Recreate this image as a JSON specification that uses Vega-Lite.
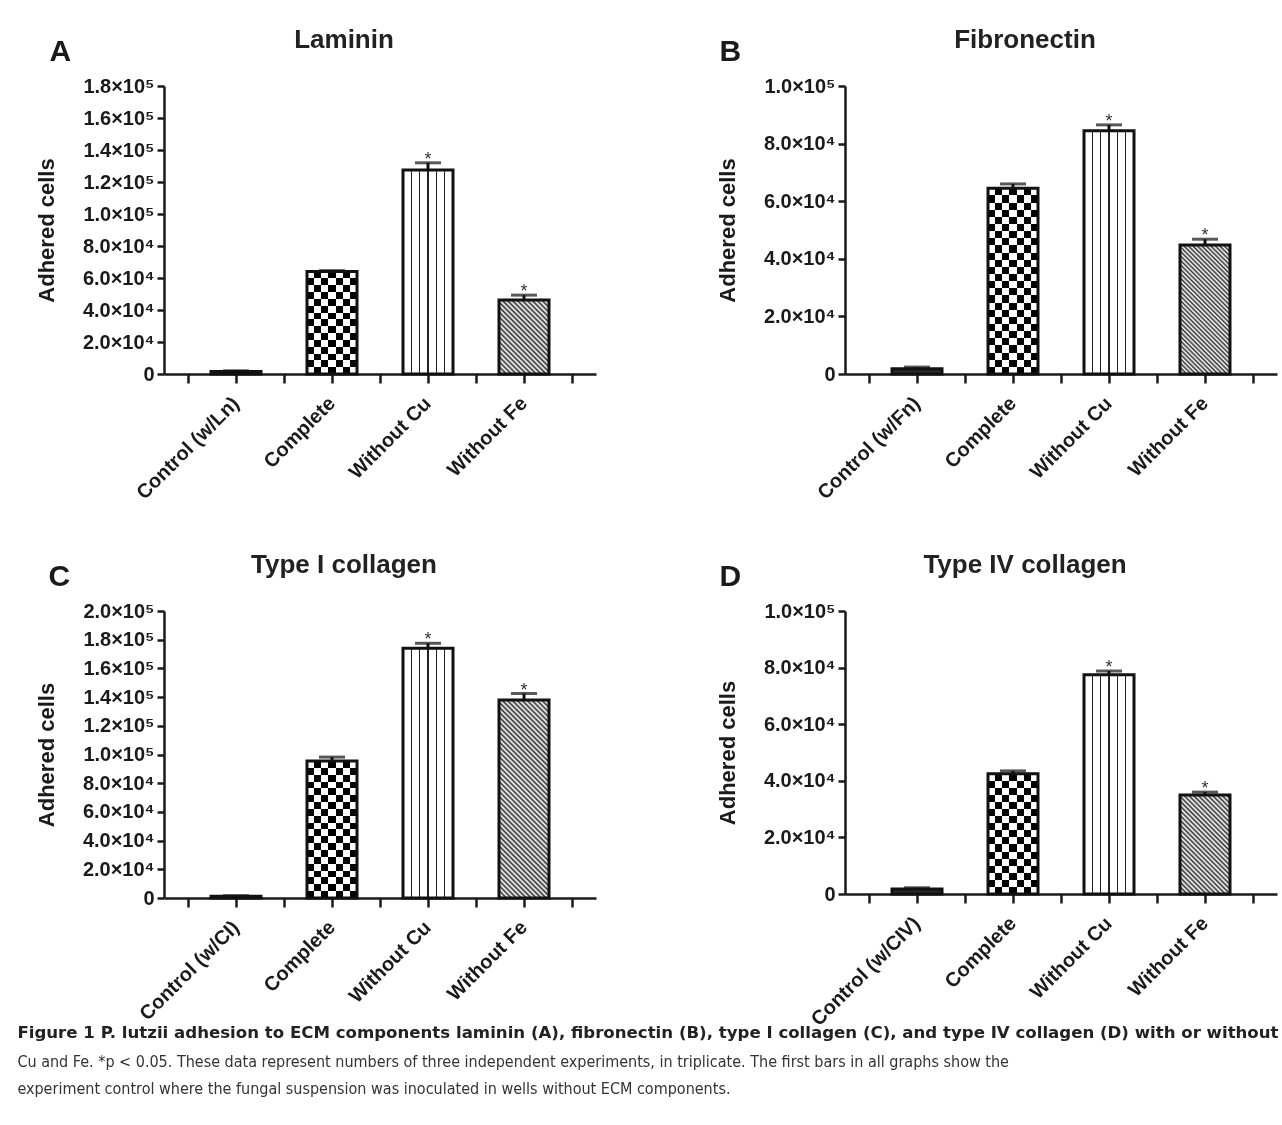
{
"$schema":"https://vega.github.io/schema/vega-lite/v6.json",
"background":"white",
"padding":{"left":17,"top":27,"right":5,"bottom":5},
"datasets":{"d":[
{"panel":"A","cond":"Control (w/Ln)","grp":"ctl","mean":1500,"upper":2000,"sig":""},
{"panel":"A","cond":"Complete","grp":"cmp","mean":64000,"upper":64600,"sig":""},
{"panel":"A","cond":"Without Cu","grp":"cu","mean":127500,"upper":132000,"sig":"*"},
{"panel":"A","cond":"Without Fe","grp":"fe","mean":46300,"upper":49300,"sig":"*"},
{"panel":"B","cond":"Control (w/Fn)","grp":"ctl","mean":1800,"upper":2400,"sig":""},
{"panel":"B","cond":"Complete","grp":"cmp","mean":64500,"upper":66000,"sig":""},
{"panel":"B","cond":"Without Cu","grp":"cu","mean":84500,"upper":86500,"sig":"*"},
{"panel":"B","cond":"Without Fe","grp":"fe","mean":44800,"upper":46800,"sig":"*"},
{"panel":"C","cond":"Control (w/CI)","grp":"ctl","mean":1200,"upper":1600,"sig":""},
{"panel":"C","cond":"Complete","grp":"cmp","mean":95500,"upper":98200,"sig":""},
{"panel":"C","cond":"Without Cu","grp":"cu","mean":174000,"upper":177500,"sig":"*"},
{"panel":"C","cond":"Without Fe","grp":"fe","mean":138000,"upper":142500,"sig":"*"},
{"panel":"D","cond":"Control (w/CIV)","grp":"ctl","mean":1800,"upper":2200,"sig":""},
{"panel":"D","cond":"Complete","grp":"cmp","mean":42500,"upper":43500,"sig":""},
{"panel":"D","cond":"Without Cu","grp":"cu","mean":77500,"upper":78800,"sig":"*"},
{"panel":"D","cond":"Without Fe","grp":"fe","mean":35000,"upper":36000,"sig":"*"}
]},
"title":{"text":"Figure 1 P. lutzii adhesion to ECM components laminin (A), fibronectin (B), type I collagen (C), and type IV collagen (D) with or without","subtitle":["Cu and Fe. *p < 0.05. These data represent numbers of three independent experiments, in triplicate. The first bars in all graphs show the","experiment control where the fungal suspension was inoculated in wells without ECM components."],"orient":"bottom","anchor":"start","frame":"bounds","baseline":"top","offset":-4,"dx":-18,"font":"DejaVu Sans","fontSize":16.6,"fontWeight":"bold","color":"#222","subtitleFont":"Liberation Sans Narrow, DejaVu Sans Condensed, sans-serif","subtitleFontSize":16,"subtitleFontWeight":"normal","subtitleColor":"#333","subtitleLineHeight":27,"subtitlePadding":12},
"columns":2,
"spacing":{"row":49,"column":120},
"concat":[
{"width":432,"height":288,"data":{"name":"d"},"transform":[{"filter":"datum.panel == 'A'"}],
"title":{"text":"Laminin","dx":-36,"offset":-17},
"resolve":{"axis":{"x":"independent"}},
"encoding":{"x":{"field":"cond","type":"nominal","scale":{"domain":["_0","Control (w/Ln)","_1","Complete","_2","Without Cu","_3","Without Fe","_4"],"paddingInner":0,"paddingOuter":0},"axis":null},
"y":{"field":"mean","type":"quantitative","title":"Adhered cells","scale":{"domain":[0,180000],"nice":false},"axis":{"values":[0,20000,40000,60000,80000,100000,120000,140000,160000,180000],"labelExpr":"datum.value == 0 ? '0' : datum.value >= 100000 ? format(datum.value / 100000, '.1f') + '×10⁵' : format(datum.value / 10000, '.1f') + '×10⁴'"}}},
"layer":[
{"transform":[{"filter":"datum.grp == 'ctl'"}],"mark":{"type":"bar","width":50,"fill":"#2a2a2a","strokeWidth":0}},
{"transform":[{"filter":"datum.grp == 'cmp'"}],"mark":{"type":"bar","width":50,"strokeWidth":0,"fill":{"gradient":"linear","x1":0,"y1":0,"x2":1,"y2":0,"stops":[{"offset":0,"color":"#000"},{"offset":0.1429,"color":"#000"},{"offset":0.1429,"color":"#fff"},{"offset":0.2857,"color":"#fff"},{"offset":0.2857,"color":"#000"},{"offset":0.4286,"color":"#000"},{"offset":0.4286,"color":"#fff"},{"offset":0.5714,"color":"#fff"},{"offset":0.5714,"color":"#000"},{"offset":0.7143,"color":"#000"},{"offset":0.7143,"color":"#fff"},{"offset":0.8571,"color":"#fff"},{"offset":0.8571,"color":"#000"},{"offset":1,"color":"#000"}]}}},
{"transform":[{"filter":"datum.grp == 'cmp'"}],"mark":{"type":"bar","width":50,"strokeWidth":0,"blend":"difference","fill":{"gradient":"linear","x1":0,"y1":0,"x2":0,"y2":1,"stops":[{"offset":0,"color":"#fff"},{"offset":0.0667,"color":"#fff"},{"offset":0.0667,"color":"#000"},{"offset":0.1333,"color":"#000"},{"offset":0.1333,"color":"#fff"},{"offset":0.2,"color":"#fff"},{"offset":0.2,"color":"#000"},{"offset":0.2667,"color":"#000"},{"offset":0.2667,"color":"#fff"},{"offset":0.3333,"color":"#fff"},{"offset":0.3333,"color":"#000"},{"offset":0.4,"color":"#000"},{"offset":0.4,"color":"#fff"},{"offset":0.4667,"color":"#fff"},{"offset":0.4667,"color":"#000"},{"offset":0.5333,"color":"#000"},{"offset":0.5333,"color":"#fff"},{"offset":0.6,"color":"#fff"},{"offset":0.6,"color":"#000"},{"offset":0.6667,"color":"#000"},{"offset":0.6667,"color":"#fff"},{"offset":0.7333,"color":"#fff"},{"offset":0.7333,"color":"#000"},{"offset":0.8,"color":"#000"},{"offset":0.8,"color":"#fff"},{"offset":0.8667,"color":"#fff"},{"offset":0.8667,"color":"#000"},{"offset":0.9333,"color":"#000"},{"offset":0.9333,"color":"#fff"},{"offset":1,"color":"#fff"}]}}},
{"transform":[{"filter":"datum.grp == 'cu'"}],"mark":{"type":"bar","width":50,"strokeWidth":0,"fill":{"gradient":"linear","x1":0,"y1":0,"x2":1,"y2":0,"stops":[{"offset":0,"color":"#fff"},{"offset":0.151,"color":"#fff"},{"offset":0.151,"color":"#222"},{"offset":0.183,"color":"#222"},{"offset":0.183,"color":"#fff"},{"offset":0.317,"color":"#fff"},{"offset":0.317,"color":"#222"},{"offset":0.349,"color":"#222"},{"offset":0.349,"color":"#fff"},{"offset":0.484,"color":"#fff"},{"offset":0.484,"color":"#222"},{"offset":0.516,"color":"#222"},{"offset":0.516,"color":"#fff"},{"offset":0.651,"color":"#fff"},{"offset":0.651,"color":"#222"},{"offset":0.683,"color":"#222"},{"offset":0.683,"color":"#fff"},{"offset":0.817,"color":"#fff"},{"offset":0.817,"color":"#222"},{"offset":0.849,"color":"#222"},{"offset":0.849,"color":"#fff"},{"offset":1,"color":"#fff"}]}}},
{"transform":[{"filter":"datum.grp == 'fe'"}],"mark":{"type":"bar","width":50,"strokeWidth":0,"fill":{"gradient":"linear","x1":0,"y1":1,"x2":0.7773,"y2":-0.1505,"stops":[{"offset":0,"color":"#fff"},{"offset":0.02,"color":"#333"},{"offset":0.04,"color":"#fff"},{"offset":0.06,"color":"#333"},{"offset":0.08,"color":"#fff"},{"offset":0.1,"color":"#333"},{"offset":0.12,"color":"#fff"},{"offset":0.14,"color":"#333"},{"offset":0.16,"color":"#fff"},{"offset":0.18,"color":"#333"},{"offset":0.2,"color":"#fff"},{"offset":0.22,"color":"#333"},{"offset":0.24,"color":"#fff"},{"offset":0.26,"color":"#333"},{"offset":0.28,"color":"#fff"},{"offset":0.3,"color":"#333"},{"offset":0.32,"color":"#fff"},{"offset":0.34,"color":"#333"},{"offset":0.36,"color":"#fff"},{"offset":0.38,"color":"#333"},{"offset":0.4,"color":"#fff"},{"offset":0.42,"color":"#333"},{"offset":0.44,"color":"#fff"},{"offset":0.46,"color":"#333"},{"offset":0.48,"color":"#fff"},{"offset":0.5,"color":"#333"},{"offset":0.52,"color":"#fff"},{"offset":0.54,"color":"#333"},{"offset":0.56,"color":"#fff"},{"offset":0.58,"color":"#333"},{"offset":0.6,"color":"#fff"},{"offset":0.62,"color":"#333"},{"offset":0.64,"color":"#fff"},{"offset":0.66,"color":"#333"},{"offset":0.68,"color":"#fff"},{"offset":0.7,"color":"#333"},{"offset":0.72,"color":"#fff"},{"offset":0.74,"color":"#333"},{"offset":0.76,"color":"#fff"},{"offset":0.78,"color":"#333"},{"offset":0.8,"color":"#fff"},{"offset":0.82,"color":"#333"},{"offset":0.84,"color":"#fff"},{"offset":0.86,"color":"#333"},{"offset":0.88,"color":"#fff"},{"offset":0.9,"color":"#333"},{"offset":0.92,"color":"#fff"},{"offset":0.94,"color":"#333"},{"offset":0.96,"color":"#fff"},{"offset":0.98,"color":"#333"},{"offset":1,"color":"#fff"}]}}},
{"mark":{"type":"bar","width":50,"filled":false,"stroke":"#111","strokeWidth":3},"encoding":{"x":{"field":"cond","type":"nominal","scale":{"domain":["_0","Control (w/Ln)","_1","Complete","_2","Without Cu","_3","Without Fe","_4"],"paddingInner":0,"paddingOuter":0},"axis":{"title":null,"labelExpr":"substring(datum.value, 0, 1) == '_' ? '' : datum.value"}}}},
{"mark":{"type":"rule","strokeWidth":3,"color":"#111"},"encoding":{"y2":{"field":"upper"}}},
{"mark":{"type":"tick","size":26,"thickness":3,"color":"#111"},"encoding":{"y":{"field":"upper","type":"quantitative","title":"Adhered cells","scale":{"domain":[0,180000],"nice":false},"axis":{"values":[0,20000,40000,60000,80000,100000,120000,140000,160000,180000],"labelExpr":"datum.value == 0 ? '0' : datum.value >= 100000 ? format(datum.value / 100000, '.1f') + '×10⁵' : format(datum.value / 10000, '.1f') + '×10⁴'"}}}},
{"mark":{"type":"text","fontSize":18,"color":"#333","dy":2,"baseline":"alphabetic"},"encoding":{"y":{"field":"upper","type":"quantitative","title":"Adhered cells","scale":{"domain":[0,180000],"nice":false},"axis":{"values":[0,20000,40000,60000,80000,100000,120000,140000,160000,180000],"labelExpr":"datum.value == 0 ? '0' : datum.value >= 100000 ? format(datum.value / 100000, '.1f') + '×10⁵' : format(datum.value / 10000, '.1f') + '×10⁴'"}},"text":{"field":"sig"},"x":{"field":"cond","type":"nominal","scale":{"domain":["_0","Control (w/Ln)","_1","Complete","_2","Without Cu","_3","Without Fe","_4"],"paddingInner":0,"paddingOuter":0},"axis":{"orient":"top","title":"A","labels":false,"ticks":false,"domain":false,"titleX":-115,"titleY":-26,"titleAlign":"left","titleBaseline":"alphabetic","titleAngle":0,"titleFontSize":30}}}}
]},
{"width":432,"height":288,"data":{"name":"d"},"transform":[{"filter":"datum.panel == 'B'"}],
"title":{"text":"Fibronectin","dx":-36,"offset":-17},
"resolve":{"axis":{"x":"independent"}},
"encoding":{"x":{"field":"cond","type":"nominal","scale":{"domain":["_0","Control (w/Fn)","_1","Complete","_2","Without Cu","_3","Without Fe","_4"],"paddingInner":0,"paddingOuter":0},"axis":null},
"y":{"field":"mean","type":"quantitative","title":"Adhered cells","scale":{"domain":[0,100000],"nice":false},"axis":{"values":[0,20000,40000,60000,80000,100000],"labelExpr":"datum.value == 0 ? '0' : datum.value >= 100000 ? format(datum.value / 100000, '.1f') + '×10⁵' : format(datum.value / 10000, '.1f') + '×10⁴'"}}},
"layer":[
{"transform":[{"filter":"datum.grp == 'ctl'"}],"mark":{"type":"bar","width":50,"fill":"#2a2a2a","strokeWidth":0}},
{"transform":[{"filter":"datum.grp == 'cmp'"}],"mark":{"type":"bar","width":50,"strokeWidth":0,"fill":{"gradient":"linear","x1":0,"y1":0,"x2":1,"y2":0,"stops":[{"offset":0,"color":"#000"},{"offset":0.1429,"color":"#000"},{"offset":0.1429,"color":"#fff"},{"offset":0.2857,"color":"#fff"},{"offset":0.2857,"color":"#000"},{"offset":0.4286,"color":"#000"},{"offset":0.4286,"color":"#fff"},{"offset":0.5714,"color":"#fff"},{"offset":0.5714,"color":"#000"},{"offset":0.7143,"color":"#000"},{"offset":0.7143,"color":"#fff"},{"offset":0.8571,"color":"#fff"},{"offset":0.8571,"color":"#000"},{"offset":1,"color":"#000"}]}}},
{"transform":[{"filter":"datum.grp == 'cmp'"}],"mark":{"type":"bar","width":50,"strokeWidth":0,"blend":"difference","fill":{"gradient":"linear","x1":0,"y1":0,"x2":0,"y2":1,"stops":[{"offset":0,"color":"#fff"},{"offset":0.0385,"color":"#fff"},{"offset":0.0385,"color":"#000"},{"offset":0.0769,"color":"#000"},{"offset":0.0769,"color":"#fff"},{"offset":0.1154,"color":"#fff"},{"offset":0.1154,"color":"#000"},{"offset":0.1538,"color":"#000"},{"offset":0.1538,"color":"#fff"},{"offset":0.1923,"color":"#fff"},{"offset":0.1923,"color":"#000"},{"offset":0.2308,"color":"#000"},{"offset":0.2308,"color":"#fff"},{"offset":0.2692,"color":"#fff"},{"offset":0.2692,"color":"#000"},{"offset":0.3077,"color":"#000"},{"offset":0.3077,"color":"#fff"},{"offset":0.3462,"color":"#fff"},{"offset":0.3462,"color":"#000"},{"offset":0.3846,"color":"#000"},{"offset":0.3846,"color":"#fff"},{"offset":0.4231,"color":"#fff"},{"offset":0.4231,"color":"#000"},{"offset":0.4615,"color":"#000"},{"offset":0.4615,"color":"#fff"},{"offset":0.5,"color":"#fff"},{"offset":0.5,"color":"#000"},{"offset":0.5385,"color":"#000"},{"offset":0.5385,"color":"#fff"},{"offset":0.5769,"color":"#fff"},{"offset":0.5769,"color":"#000"},{"offset":0.6154,"color":"#000"},{"offset":0.6154,"color":"#fff"},{"offset":0.6538,"color":"#fff"},{"offset":0.6538,"color":"#000"},{"offset":0.6923,"color":"#000"},{"offset":0.6923,"color":"#fff"},{"offset":0.7308,"color":"#fff"},{"offset":0.7308,"color":"#000"},{"offset":0.7692,"color":"#000"},{"offset":0.7692,"color":"#fff"},{"offset":0.8077,"color":"#fff"},{"offset":0.8077,"color":"#000"},{"offset":0.8462,"color":"#000"},{"offset":0.8462,"color":"#fff"},{"offset":0.8846,"color":"#fff"},{"offset":0.8846,"color":"#000"},{"offset":0.9231,"color":"#000"},{"offset":0.9231,"color":"#fff"},{"offset":0.9615,"color":"#fff"},{"offset":0.9615,"color":"#000"},{"offset":1,"color":"#000"}]}}},
{"transform":[{"filter":"datum.grp == 'cu'"}],"mark":{"type":"bar","width":50,"strokeWidth":0,"fill":{"gradient":"linear","x1":0,"y1":0,"x2":1,"y2":0,"stops":[{"offset":0,"color":"#fff"},{"offset":0.151,"color":"#fff"},{"offset":0.151,"color":"#222"},{"offset":0.183,"color":"#222"},{"offset":0.183,"color":"#fff"},{"offset":0.317,"color":"#fff"},{"offset":0.317,"color":"#222"},{"offset":0.349,"color":"#222"},{"offset":0.349,"color":"#fff"},{"offset":0.484,"color":"#fff"},{"offset":0.484,"color":"#222"},{"offset":0.516,"color":"#222"},{"offset":0.516,"color":"#fff"},{"offset":0.651,"color":"#fff"},{"offset":0.651,"color":"#222"},{"offset":0.683,"color":"#222"},{"offset":0.683,"color":"#fff"},{"offset":0.817,"color":"#fff"},{"offset":0.817,"color":"#222"},{"offset":0.849,"color":"#222"},{"offset":0.849,"color":"#fff"},{"offset":1,"color":"#fff"}]}}},
{"transform":[{"filter":"datum.grp == 'fe'"}],"mark":{"type":"bar","width":50,"strokeWidth":0,"fill":{"gradient":"linear","x1":0,"y1":1,"x2":0.4676,"y2":-0.2064,"stops":[{"offset":0,"color":"#fff"},{"offset":0.0125,"color":"#333"},{"offset":0.025,"color":"#fff"},{"offset":0.0375,"color":"#333"},{"offset":0.05,"color":"#fff"},{"offset":0.0625,"color":"#333"},{"offset":0.075,"color":"#fff"},{"offset":0.0875,"color":"#333"},{"offset":0.1,"color":"#fff"},{"offset":0.1125,"color":"#333"},{"offset":0.125,"color":"#fff"},{"offset":0.1375,"color":"#333"},{"offset":0.15,"color":"#fff"},{"offset":0.1625,"color":"#333"},{"offset":0.175,"color":"#fff"},{"offset":0.1875,"color":"#333"},{"offset":0.2,"color":"#fff"},{"offset":0.2125,"color":"#333"},{"offset":0.225,"color":"#fff"},{"offset":0.2375,"color":"#333"},{"offset":0.25,"color":"#fff"},{"offset":0.2625,"color":"#333"},{"offset":0.275,"color":"#fff"},{"offset":0.2875,"color":"#333"},{"offset":0.3,"color":"#fff"},{"offset":0.3125,"color":"#333"},{"offset":0.325,"color":"#fff"},{"offset":0.3375,"color":"#333"},{"offset":0.35,"color":"#fff"},{"offset":0.3625,"color":"#333"},{"offset":0.375,"color":"#fff"},{"offset":0.3875,"color":"#333"},{"offset":0.4,"color":"#fff"},{"offset":0.4125,"color":"#333"},{"offset":0.425,"color":"#fff"},{"offset":0.4375,"color":"#333"},{"offset":0.45,"color":"#fff"},{"offset":0.4625,"color":"#333"},{"offset":0.475,"color":"#fff"},{"offset":0.4875,"color":"#333"},{"offset":0.5,"color":"#fff"},{"offset":0.5125,"color":"#333"},{"offset":0.525,"color":"#fff"},{"offset":0.5375,"color":"#333"},{"offset":0.55,"color":"#fff"},{"offset":0.5625,"color":"#333"},{"offset":0.575,"color":"#fff"},{"offset":0.5875,"color":"#333"},{"offset":0.6,"color":"#fff"},{"offset":0.6125,"color":"#333"},{"offset":0.625,"color":"#fff"},{"offset":0.6375,"color":"#333"},{"offset":0.65,"color":"#fff"},{"offset":0.6625,"color":"#333"},{"offset":0.675,"color":"#fff"},{"offset":0.6875,"color":"#333"},{"offset":0.7,"color":"#fff"},{"offset":0.7125,"color":"#333"},{"offset":0.725,"color":"#fff"},{"offset":0.7375,"color":"#333"},{"offset":0.75,"color":"#fff"},{"offset":0.7625,"color":"#333"},{"offset":0.775,"color":"#fff"},{"offset":0.7875,"color":"#333"},{"offset":0.8,"color":"#fff"},{"offset":0.8125,"color":"#333"},{"offset":0.825,"color":"#fff"},{"offset":0.8375,"color":"#333"},{"offset":0.85,"color":"#fff"},{"offset":0.8625,"color":"#333"},{"offset":0.875,"color":"#fff"},{"offset":0.8875,"color":"#333"},{"offset":0.9,"color":"#fff"},{"offset":0.9125,"color":"#333"},{"offset":0.925,"color":"#fff"},{"offset":0.9375,"color":"#333"},{"offset":0.95,"color":"#fff"},{"offset":0.9625,"color":"#333"},{"offset":0.975,"color":"#fff"},{"offset":0.9875,"color":"#333"},{"offset":1,"color":"#fff"}]}}},
{"mark":{"type":"bar","width":50,"filled":false,"stroke":"#111","strokeWidth":3},"encoding":{"x":{"field":"cond","type":"nominal","scale":{"domain":["_0","Control (w/Fn)","_1","Complete","_2","Without Cu","_3","Without Fe","_4"],"paddingInner":0,"paddingOuter":0},"axis":{"title":null,"labelExpr":"substring(datum.value, 0, 1) == '_' ? '' : datum.value"}}}},
{"mark":{"type":"rule","strokeWidth":3,"color":"#111"},"encoding":{"y2":{"field":"upper"}}},
{"mark":{"type":"tick","size":26,"thickness":3,"color":"#111"},"encoding":{"y":{"field":"upper","type":"quantitative","title":"Adhered cells","scale":{"domain":[0,100000],"nice":false},"axis":{"values":[0,20000,40000,60000,80000,100000],"labelExpr":"datum.value == 0 ? '0' : datum.value >= 100000 ? format(datum.value / 100000, '.1f') + '×10⁵' : format(datum.value / 10000, '.1f') + '×10⁴'"}}}},
{"mark":{"type":"text","fontSize":18,"color":"#333","dy":2,"baseline":"alphabetic"},"encoding":{"y":{"field":"upper","type":"quantitative","title":"Adhered cells","scale":{"domain":[0,100000],"nice":false},"axis":{"values":[0,20000,40000,60000,80000,100000],"labelExpr":"datum.value == 0 ? '0' : datum.value >= 100000 ? format(datum.value / 100000, '.1f') + '×10⁵' : format(datum.value / 10000, '.1f') + '×10⁴'"}},"text":{"field":"sig"},"x":{"field":"cond","type":"nominal","scale":{"domain":["_0","Control (w/Fn)","_1","Complete","_2","Without Cu","_3","Without Fe","_4"],"paddingInner":0,"paddingOuter":0},"axis":{"orient":"top","title":"B","labels":false,"ticks":false,"domain":false,"titleX":-126,"titleY":-26,"titleAlign":"left","titleBaseline":"alphabetic","titleAngle":0,"titleFontSize":30}}}}
]},
{"width":432,"height":287,"data":{"name":"d"},"transform":[{"filter":"datum.panel == 'C'"}],
"title":{"text":"Type I collagen","dx":-36,"offset":-17},
"resolve":{"axis":{"x":"independent"}},
"encoding":{"x":{"field":"cond","type":"nominal","scale":{"domain":["_0","Control (w/CI)","_1","Complete","_2","Without Cu","_3","Without Fe","_4"],"paddingInner":0,"paddingOuter":0},"axis":null},
"y":{"field":"mean","type":"quantitative","title":"Adhered cells","scale":{"domain":[0,200000],"nice":false},"axis":{"values":[0,20000,40000,60000,80000,100000,120000,140000,160000,180000,200000],"labelExpr":"datum.value == 0 ? '0' : datum.value >= 100000 ? format(datum.value / 100000, '.1f') + '×10⁵' : format(datum.value / 10000, '.1f') + '×10⁴'"}}},
"layer":[
{"transform":[{"filter":"datum.grp == 'ctl'"}],"mark":{"type":"bar","width":50,"fill":"#2a2a2a","strokeWidth":0}},
{"transform":[{"filter":"datum.grp == 'cmp'"}],"mark":{"type":"bar","width":50,"strokeWidth":0,"fill":{"gradient":"linear","x1":0,"y1":0,"x2":1,"y2":0,"stops":[{"offset":0,"color":"#000"},{"offset":0.1429,"color":"#000"},{"offset":0.1429,"color":"#fff"},{"offset":0.2857,"color":"#fff"},{"offset":0.2857,"color":"#000"},{"offset":0.4286,"color":"#000"},{"offset":0.4286,"color":"#fff"},{"offset":0.5714,"color":"#fff"},{"offset":0.5714,"color":"#000"},{"offset":0.7143,"color":"#000"},{"offset":0.7143,"color":"#fff"},{"offset":0.8571,"color":"#fff"},{"offset":0.8571,"color":"#000"},{"offset":1,"color":"#000"}]}}},
{"transform":[{"filter":"datum.grp == 'cmp'"}],"mark":{"type":"bar","width":50,"strokeWidth":0,"blend":"difference","fill":{"gradient":"linear","x1":0,"y1":0,"x2":0,"y2":1,"stops":[{"offset":0,"color":"#fff"},{"offset":0.05,"color":"#fff"},{"offset":0.05,"color":"#000"},{"offset":0.1,"color":"#000"},{"offset":0.1,"color":"#fff"},{"offset":0.15,"color":"#fff"},{"offset":0.15,"color":"#000"},{"offset":0.2,"color":"#000"},{"offset":0.2,"color":"#fff"},{"offset":0.25,"color":"#fff"},{"offset":0.25,"color":"#000"},{"offset":0.3,"color":"#000"},{"offset":0.3,"color":"#fff"},{"offset":0.35,"color":"#fff"},{"offset":0.35,"color":"#000"},{"offset":0.4,"color":"#000"},{"offset":0.4,"color":"#fff"},{"offset":0.45,"color":"#fff"},{"offset":0.45,"color":"#000"},{"offset":0.5,"color":"#000"},{"offset":0.5,"color":"#fff"},{"offset":0.55,"color":"#fff"},{"offset":0.55,"color":"#000"},{"offset":0.6,"color":"#000"},{"offset":0.6,"color":"#fff"},{"offset":0.65,"color":"#fff"},{"offset":0.65,"color":"#000"},{"offset":0.7,"color":"#000"},{"offset":0.7,"color":"#fff"},{"offset":0.75,"color":"#fff"},{"offset":0.75,"color":"#000"},{"offset":0.8,"color":"#000"},{"offset":0.8,"color":"#fff"},{"offset":0.85,"color":"#fff"},{"offset":0.85,"color":"#000"},{"offset":0.9,"color":"#000"},{"offset":0.9,"color":"#fff"},{"offset":0.95,"color":"#fff"},{"offset":0.95,"color":"#000"},{"offset":1,"color":"#000"}]}}},
{"transform":[{"filter":"datum.grp == 'cu'"}],"mark":{"type":"bar","width":50,"strokeWidth":0,"fill":{"gradient":"linear","x1":0,"y1":0,"x2":1,"y2":0,"stops":[{"offset":0,"color":"#fff"},{"offset":0.151,"color":"#fff"},{"offset":0.151,"color":"#222"},{"offset":0.183,"color":"#222"},{"offset":0.183,"color":"#fff"},{"offset":0.317,"color":"#fff"},{"offset":0.317,"color":"#222"},{"offset":0.349,"color":"#222"},{"offset":0.349,"color":"#fff"},{"offset":0.484,"color":"#fff"},{"offset":0.484,"color":"#222"},{"offset":0.516,"color":"#222"},{"offset":0.516,"color":"#fff"},{"offset":0.651,"color":"#fff"},{"offset":0.651,"color":"#222"},{"offset":0.683,"color":"#222"},{"offset":0.683,"color":"#fff"},{"offset":0.817,"color":"#fff"},{"offset":0.817,"color":"#222"},{"offset":0.849,"color":"#222"},{"offset":0.849,"color":"#fff"},{"offset":1,"color":"#fff"}]}}},
{"transform":[{"filter":"datum.grp == 'fe'"}],"mark":{"type":"bar","width":50,"strokeWidth":0,"fill":{"gradient":"linear","x1":0,"y1":1,"x2":0.2973,"y2":-0.1774,"stops":[{"offset":0,"color":"#fff"},{"offset":0.01,"color":"#333"},{"offset":0.02,"color":"#fff"},{"offset":0.03,"color":"#333"},{"offset":0.04,"color":"#fff"},{"offset":0.05,"color":"#333"},{"offset":0.06,"color":"#fff"},{"offset":0.07,"color":"#333"},{"offset":0.08,"color":"#fff"},{"offset":0.09,"color":"#333"},{"offset":0.1,"color":"#fff"},{"offset":0.11,"color":"#333"},{"offset":0.12,"color":"#fff"},{"offset":0.13,"color":"#333"},{"offset":0.14,"color":"#fff"},{"offset":0.15,"color":"#333"},{"offset":0.16,"color":"#fff"},{"offset":0.17,"color":"#333"},{"offset":0.18,"color":"#fff"},{"offset":0.19,"color":"#333"},{"offset":0.2,"color":"#fff"},{"offset":0.21,"color":"#333"},{"offset":0.22,"color":"#fff"},{"offset":0.23,"color":"#333"},{"offset":0.24,"color":"#fff"},{"offset":0.25,"color":"#333"},{"offset":0.26,"color":"#fff"},{"offset":0.27,"color":"#333"},{"offset":0.28,"color":"#fff"},{"offset":0.29,"color":"#333"},{"offset":0.3,"color":"#fff"},{"offset":0.31,"color":"#333"},{"offset":0.32,"color":"#fff"},{"offset":0.33,"color":"#333"},{"offset":0.34,"color":"#fff"},{"offset":0.35,"color":"#333"},{"offset":0.36,"color":"#fff"},{"offset":0.37,"color":"#333"},{"offset":0.38,"color":"#fff"},{"offset":0.39,"color":"#333"},{"offset":0.4,"color":"#fff"},{"offset":0.41,"color":"#333"},{"offset":0.42,"color":"#fff"},{"offset":0.43,"color":"#333"},{"offset":0.44,"color":"#fff"},{"offset":0.45,"color":"#333"},{"offset":0.46,"color":"#fff"},{"offset":0.47,"color":"#333"},{"offset":0.48,"color":"#fff"},{"offset":0.49,"color":"#333"},{"offset":0.5,"color":"#fff"},{"offset":0.51,"color":"#333"},{"offset":0.52,"color":"#fff"},{"offset":0.53,"color":"#333"},{"offset":0.54,"color":"#fff"},{"offset":0.55,"color":"#333"},{"offset":0.56,"color":"#fff"},{"offset":0.57,"color":"#333"},{"offset":0.58,"color":"#fff"},{"offset":0.59,"color":"#333"},{"offset":0.6,"color":"#fff"},{"offset":0.61,"color":"#333"},{"offset":0.62,"color":"#fff"},{"offset":0.63,"color":"#333"},{"offset":0.64,"color":"#fff"},{"offset":0.65,"color":"#333"},{"offset":0.66,"color":"#fff"},{"offset":0.67,"color":"#333"},{"offset":0.68,"color":"#fff"},{"offset":0.69,"color":"#333"},{"offset":0.7,"color":"#fff"},{"offset":0.71,"color":"#333"},{"offset":0.72,"color":"#fff"},{"offset":0.73,"color":"#333"},{"offset":0.74,"color":"#fff"},{"offset":0.75,"color":"#333"},{"offset":0.76,"color":"#fff"},{"offset":0.77,"color":"#333"},{"offset":0.78,"color":"#fff"},{"offset":0.79,"color":"#333"},{"offset":0.8,"color":"#fff"},{"offset":0.81,"color":"#333"},{"offset":0.82,"color":"#fff"},{"offset":0.83,"color":"#333"},{"offset":0.84,"color":"#fff"},{"offset":0.85,"color":"#333"},{"offset":0.86,"color":"#fff"},{"offset":0.87,"color":"#333"},{"offset":0.88,"color":"#fff"},{"offset":0.89,"color":"#333"},{"offset":0.9,"color":"#fff"},{"offset":0.91,"color":"#333"},{"offset":0.92,"color":"#fff"},{"offset":0.93,"color":"#333"},{"offset":0.94,"color":"#fff"},{"offset":0.95,"color":"#333"},{"offset":0.96,"color":"#fff"},{"offset":0.97,"color":"#333"},{"offset":0.98,"color":"#fff"},{"offset":0.99,"color":"#333"},{"offset":1,"color":"#fff"}]}}},
{"mark":{"type":"bar","width":50,"filled":false,"stroke":"#111","strokeWidth":3},"encoding":{"x":{"field":"cond","type":"nominal","scale":{"domain":["_0","Control (w/CI)","_1","Complete","_2","Without Cu","_3","Without Fe","_4"],"paddingInner":0,"paddingOuter":0},"axis":{"title":null,"labelExpr":"substring(datum.value, 0, 1) == '_' ? '' : datum.value"}}}},
{"mark":{"type":"rule","strokeWidth":3,"color":"#111"},"encoding":{"y2":{"field":"upper"}}},
{"mark":{"type":"tick","size":26,"thickness":3,"color":"#111"},"encoding":{"y":{"field":"upper","type":"quantitative","title":"Adhered cells","scale":{"domain":[0,200000],"nice":false},"axis":{"values":[0,20000,40000,60000,80000,100000,120000,140000,160000,180000,200000],"labelExpr":"datum.value == 0 ? '0' : datum.value >= 100000 ? format(datum.value / 100000, '.1f') + '×10⁵' : format(datum.value / 10000, '.1f') + '×10⁴'"}}}},
{"mark":{"type":"text","fontSize":18,"color":"#333","dy":2,"baseline":"alphabetic"},"encoding":{"y":{"field":"upper","type":"quantitative","title":"Adhered cells","scale":{"domain":[0,200000],"nice":false},"axis":{"values":[0,20000,40000,60000,80000,100000,120000,140000,160000,180000,200000],"labelExpr":"datum.value == 0 ? '0' : datum.value >= 100000 ? format(datum.value / 100000, '.1f') + '×10⁵' : format(datum.value / 10000, '.1f') + '×10⁴'"}},"text":{"field":"sig"},"x":{"field":"cond","type":"nominal","scale":{"domain":["_0","Control (w/CI)","_1","Complete","_2","Without Cu","_3","Without Fe","_4"],"paddingInner":0,"paddingOuter":0},"axis":{"orient":"top","title":"C","labels":false,"ticks":false,"domain":false,"titleX":-116,"titleY":-26,"titleAlign":"left","titleBaseline":"alphabetic","titleAngle":0,"titleFontSize":30}}}}
]},
{"width":432,"height":283,"data":{"name":"d"},"transform":[{"filter":"datum.panel == 'D'"}],
"title":{"text":"Type IV collagen","dx":-36,"offset":-17},
"resolve":{"axis":{"x":"independent"}},
"encoding":{"x":{"field":"cond","type":"nominal","scale":{"domain":["_0","Control (w/CIV)","_1","Complete","_2","Without Cu","_3","Without Fe","_4"],"paddingInner":0,"paddingOuter":0},"axis":null},
"y":{"field":"mean","type":"quantitative","title":"Adhered cells","scale":{"domain":[0,100000],"nice":false},"axis":{"values":[0,20000,40000,60000,80000,100000],"labelExpr":"datum.value == 0 ? '0' : datum.value >= 100000 ? format(datum.value / 100000, '.1f') + '×10⁵' : format(datum.value / 10000, '.1f') + '×10⁴'"}}},
"layer":[
{"transform":[{"filter":"datum.grp == 'ctl'"}],"mark":{"type":"bar","width":50,"fill":"#2a2a2a","strokeWidth":0}},
{"transform":[{"filter":"datum.grp == 'cmp'"}],"mark":{"type":"bar","width":50,"strokeWidth":0,"fill":{"gradient":"linear","x1":0,"y1":0,"x2":1,"y2":0,"stops":[{"offset":0,"color":"#000"},{"offset":0.1429,"color":"#000"},{"offset":0.1429,"color":"#fff"},{"offset":0.2857,"color":"#fff"},{"offset":0.2857,"color":"#000"},{"offset":0.4286,"color":"#000"},{"offset":0.4286,"color":"#fff"},{"offset":0.5714,"color":"#fff"},{"offset":0.5714,"color":"#000"},{"offset":0.7143,"color":"#000"},{"offset":0.7143,"color":"#fff"},{"offset":0.8571,"color":"#fff"},{"offset":0.8571,"color":"#000"},{"offset":1,"color":"#000"}]}}},
{"transform":[{"filter":"datum.grp == 'cmp'"}],"mark":{"type":"bar","width":50,"strokeWidth":0,"blend":"difference","fill":{"gradient":"linear","x1":0,"y1":0,"x2":0,"y2":1,"stops":[{"offset":0,"color":"#fff"},{"offset":0.0588,"color":"#fff"},{"offset":0.0588,"color":"#000"},{"offset":0.1176,"color":"#000"},{"offset":0.1176,"color":"#fff"},{"offset":0.1765,"color":"#fff"},{"offset":0.1765,"color":"#000"},{"offset":0.2353,"color":"#000"},{"offset":0.2353,"color":"#fff"},{"offset":0.2941,"color":"#fff"},{"offset":0.2941,"color":"#000"},{"offset":0.3529,"color":"#000"},{"offset":0.3529,"color":"#fff"},{"offset":0.4118,"color":"#fff"},{"offset":0.4118,"color":"#000"},{"offset":0.4706,"color":"#000"},{"offset":0.4706,"color":"#fff"},{"offset":0.5294,"color":"#fff"},{"offset":0.5294,"color":"#000"},{"offset":0.5882,"color":"#000"},{"offset":0.5882,"color":"#fff"},{"offset":0.6471,"color":"#fff"},{"offset":0.6471,"color":"#000"},{"offset":0.7059,"color":"#000"},{"offset":0.7059,"color":"#fff"},{"offset":0.7647,"color":"#fff"},{"offset":0.7647,"color":"#000"},{"offset":0.8235,"color":"#000"},{"offset":0.8235,"color":"#fff"},{"offset":0.8824,"color":"#fff"},{"offset":0.8824,"color":"#000"},{"offset":0.9412,"color":"#000"},{"offset":0.9412,"color":"#fff"},{"offset":1,"color":"#fff"}]}}},
{"transform":[{"filter":"datum.grp == 'cu'"}],"mark":{"type":"bar","width":50,"strokeWidth":0,"fill":{"gradient":"linear","x1":0,"y1":0,"x2":1,"y2":0,"stops":[{"offset":0,"color":"#fff"},{"offset":0.151,"color":"#fff"},{"offset":0.151,"color":"#222"},{"offset":0.183,"color":"#222"},{"offset":0.183,"color":"#fff"},{"offset":0.317,"color":"#fff"},{"offset":0.317,"color":"#222"},{"offset":0.349,"color":"#222"},{"offset":0.349,"color":"#fff"},{"offset":0.484,"color":"#fff"},{"offset":0.484,"color":"#222"},{"offset":0.516,"color":"#222"},{"offset":0.516,"color":"#fff"},{"offset":0.651,"color":"#fff"},{"offset":0.651,"color":"#222"},{"offset":0.683,"color":"#222"},{"offset":0.683,"color":"#fff"},{"offset":0.817,"color":"#fff"},{"offset":0.817,"color":"#222"},{"offset":0.849,"color":"#222"},{"offset":0.849,"color":"#fff"},{"offset":1,"color":"#fff"}]}}},
{"transform":[{"filter":"datum.grp == 'fe'"}],"mark":{"type":"bar","width":50,"strokeWidth":0,"fill":{"gradient":"linear","x1":0,"y1":1,"x2":0.6052,"y2":-0.1988,"stops":[{"offset":0,"color":"#fff"},{"offset":0.016,"color":"#333"},{"offset":0.032,"color":"#fff"},{"offset":0.048,"color":"#333"},{"offset":0.064,"color":"#fff"},{"offset":0.08,"color":"#333"},{"offset":0.096,"color":"#fff"},{"offset":0.112,"color":"#333"},{"offset":0.128,"color":"#fff"},{"offset":0.144,"color":"#333"},{"offset":0.16,"color":"#fff"},{"offset":0.176,"color":"#333"},{"offset":0.192,"color":"#fff"},{"offset":0.208,"color":"#333"},{"offset":0.224,"color":"#fff"},{"offset":0.24,"color":"#333"},{"offset":0.256,"color":"#fff"},{"offset":0.272,"color":"#333"},{"offset":0.288,"color":"#fff"},{"offset":0.304,"color":"#333"},{"offset":0.32,"color":"#fff"},{"offset":0.336,"color":"#333"},{"offset":0.352,"color":"#fff"},{"offset":0.368,"color":"#333"},{"offset":0.384,"color":"#fff"},{"offset":0.4,"color":"#333"},{"offset":0.416,"color":"#fff"},{"offset":0.432,"color":"#333"},{"offset":0.448,"color":"#fff"},{"offset":0.464,"color":"#333"},{"offset":0.48,"color":"#fff"},{"offset":0.496,"color":"#333"},{"offset":0.512,"color":"#fff"},{"offset":0.528,"color":"#333"},{"offset":0.544,"color":"#fff"},{"offset":0.56,"color":"#333"},{"offset":0.576,"color":"#fff"},{"offset":0.592,"color":"#333"},{"offset":0.608,"color":"#fff"},{"offset":0.624,"color":"#333"},{"offset":0.64,"color":"#fff"},{"offset":0.656,"color":"#333"},{"offset":0.672,"color":"#fff"},{"offset":0.688,"color":"#333"},{"offset":0.704,"color":"#fff"},{"offset":0.72,"color":"#333"},{"offset":0.736,"color":"#fff"},{"offset":0.752,"color":"#333"},{"offset":0.768,"color":"#fff"},{"offset":0.784,"color":"#333"},{"offset":0.8,"color":"#fff"},{"offset":0.816,"color":"#333"},{"offset":0.832,"color":"#fff"},{"offset":0.848,"color":"#333"},{"offset":0.864,"color":"#fff"},{"offset":0.88,"color":"#333"},{"offset":0.896,"color":"#fff"},{"offset":0.912,"color":"#333"},{"offset":0.928,"color":"#fff"},{"offset":0.944,"color":"#333"},{"offset":0.96,"color":"#fff"},{"offset":0.976,"color":"#333"},{"offset":0.992,"color":"#fff"},{"offset":1,"color":"#fff"}]}}},
{"mark":{"type":"bar","width":50,"filled":false,"stroke":"#111","strokeWidth":3},"encoding":{"x":{"field":"cond","type":"nominal","scale":{"domain":["_0","Control (w/CIV)","_1","Complete","_2","Without Cu","_3","Without Fe","_4"],"paddingInner":0,"paddingOuter":0},"axis":{"title":null,"labelExpr":"substring(datum.value, 0, 1) == '_' ? '' : datum.value"}}}},
{"mark":{"type":"rule","strokeWidth":3,"color":"#111"},"encoding":{"y2":{"field":"upper"}}},
{"mark":{"type":"tick","size":26,"thickness":3,"color":"#111"},"encoding":{"y":{"field":"upper","type":"quantitative","title":"Adhered cells","scale":{"domain":[0,100000],"nice":false},"axis":{"values":[0,20000,40000,60000,80000,100000],"labelExpr":"datum.value == 0 ? '0' : datum.value >= 100000 ? format(datum.value / 100000, '.1f') + '×10⁵' : format(datum.value / 10000, '.1f') + '×10⁴'"}}}},
{"mark":{"type":"text","fontSize":18,"color":"#333","dy":2,"baseline":"alphabetic"},"encoding":{"y":{"field":"upper","type":"quantitative","title":"Adhered cells","scale":{"domain":[0,100000],"nice":false},"axis":{"values":[0,20000,40000,60000,80000,100000],"labelExpr":"datum.value == 0 ? '0' : datum.value >= 100000 ? format(datum.value / 100000, '.1f') + '×10⁵' : format(datum.value / 10000, '.1f') + '×10⁴'"}},"text":{"field":"sig"},"x":{"field":"cond","type":"nominal","scale":{"domain":["_0","Control (w/CIV)","_1","Complete","_2","Without Cu","_3","Without Fe","_4"],"paddingInner":0,"paddingOuter":0},"axis":{"orient":"top","title":"D","labels":false,"ticks":false,"domain":false,"titleX":-126,"titleY":-26,"titleAlign":"left","titleBaseline":"alphabetic","titleAngle":0,"titleFontSize":30}}}}
]}
],
"config":{
"font":"Liberation Sans",
"view":{"stroke":null},
"title":{"font":"Liberation Sans","fontSize":26,"fontWeight":"bold","color":"#222","baseline":"alphabetic","anchor":"middle","frame":"group"},
"axis":{"domainColor":"#1a1a1a","domainWidth":2.5,"tickColor":"#1a1a1a","tickWidth":2.5,"labelFont":"Liberation Sans","labelFontWeight":"bold","labelColor":"#1a1a1a","titleFont":"Liberation Sans","titleFontWeight":"bold","titleColor":"#1a1a1a","grid":false},
"axisY":{"labelFontSize":20,"titleFontSize":22,"labelPadding":3,"tickSize":7,"titlePadding":24},
"axisX":{"labelAngle":-45,"labelFontSize":20,"labelPadding":17,"tickSize":9,"labelAlign":"right","labelBaseline":"middle"}
}
}
